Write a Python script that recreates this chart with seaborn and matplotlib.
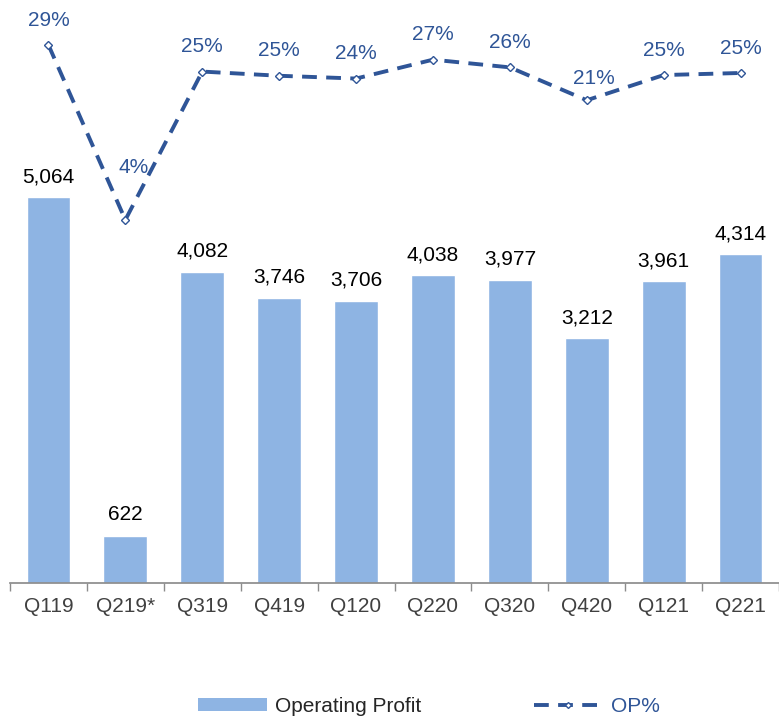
import numpy as np
import pandas as pd
import matplotlib
matplotlib.use('Agg')
import matplotlib.pyplot as plt
import seaborn as sns
from matplotlib.patches import Patch
from matplotlib.lines import Line2D

# --- data ---
quarters = ['Q119', 'Q219*', 'Q319', 'Q419', 'Q120', 'Q220', 'Q320', 'Q420', 'Q121', 'Q221']
op_profit = [5064, 622, 4082, 3746, 3706, 4038, 3977, 3212, 3961, 4314]
op_pct = [29.0, 4.0, 25.2, 24.6, 24.2, 26.9, 25.8, 21.1, 24.7, 25.0]

bar_color = '#8EB4E3'
line_color = '#2F5597'
fs = 15

sns.set_theme(style='white')
plt.rcParams['font.family'] = ['Liberation Sans', 'DejaVu Sans']

df = pd.DataFrame({'quarter': quarters, 'profit': op_profit, 'pct': op_pct})

fig = plt.figure(figsize=(7.79, 7.19), dpi=100)
ax = fig.add_axes([10 / 779, 136 / 719, 769 / 779, 573 / 719])

sns.barplot(data=df, x='quarter', y='profit', color=bar_color, saturation=1,
            width=0.57, ax=ax)
ax.set_ylim(0, 7520)
ax.set_xlim(-0.5, 9.5)

# bar value labels
for i, v in enumerate(op_profit):
    ax.annotate(f'{v:,}', (i, v), xytext=(0, 8), textcoords='offset points',
                ha='center', va='bottom', fontsize=fs, color='black')

# secondary axis for OP%
ax2 = ax.twinx()
sns.lineplot(data=df, x='quarter', y='pct', ax=ax2, color=line_color,
             linewidth=2.8, linestyle=(0, (3.8, 2.4)), marker='D', markersize=4,
             markerfacecolor='white', markeredgecolor=line_color, markeredgewidth=1)
ax2.set_ylim(-47.9, 34)
ax2.set_xlim(-0.5, 9.5)

for i, p in enumerate(op_pct):
    dx, dy = (0, 11)
    if i == 1:
        dx, dy = (6, 31)
    elif i == 7:
        dx, dy = (5, 9)
    ax2.annotate(f'{round(p)}%', (i, p), xytext=(dx, dy), textcoords='offset points',
                 ha='center', va='bottom', fontsize=fs, color=line_color)

for a in (ax, ax2):
    for s in ['top', 'right', 'left']:
        a.spines[s].set_visible(False)
    a.set_xlabel('')
    a.set_ylabel('')
    a.set_yticks([])
ax.spines['bottom'].set_color('#8C8C8C')
ax2.spines['bottom'].set_visible(False)

ax.set_xticks(range(len(quarters)))
ax.set_xticklabels(quarters, fontsize=fs, color='#404040')
ax.tick_params(axis='x', which='major', length=0, pad=10)
ax.set_xticks(np.arange(-0.5, 10, 1), minor=True)
ax.tick_params(axis='x', which='minor', length=6, color='#8C8C8C', width=1,
               direction='out', bottom=True)
ax2.tick_params(axis='x', length=0, labelbottom=False)

handles = [Patch(facecolor=bar_color, edgecolor='none'),
           Line2D([0], [0], color=line_color, linewidth=2.8, linestyle=(0, (3.8, 2.4)),
                  marker='D', markersize=3, markerfacecolor='white',
                  markeredgecolor=line_color)]
leg = fig.legend(handles, ['Operating Profit', 'OP%'], loc='center',
                 bbox_to_anchor=(429 / 779, 1 - 706 / 719), ncol=2, frameon=False,
                 fontsize=fs, handlelength=3.3, handleheight=0.6, handletextpad=0.4,
                 columnspacing=5.4)
leg.get_texts()[1].set_color(line_color)

fig.savefig('out.png', dpi=100)
